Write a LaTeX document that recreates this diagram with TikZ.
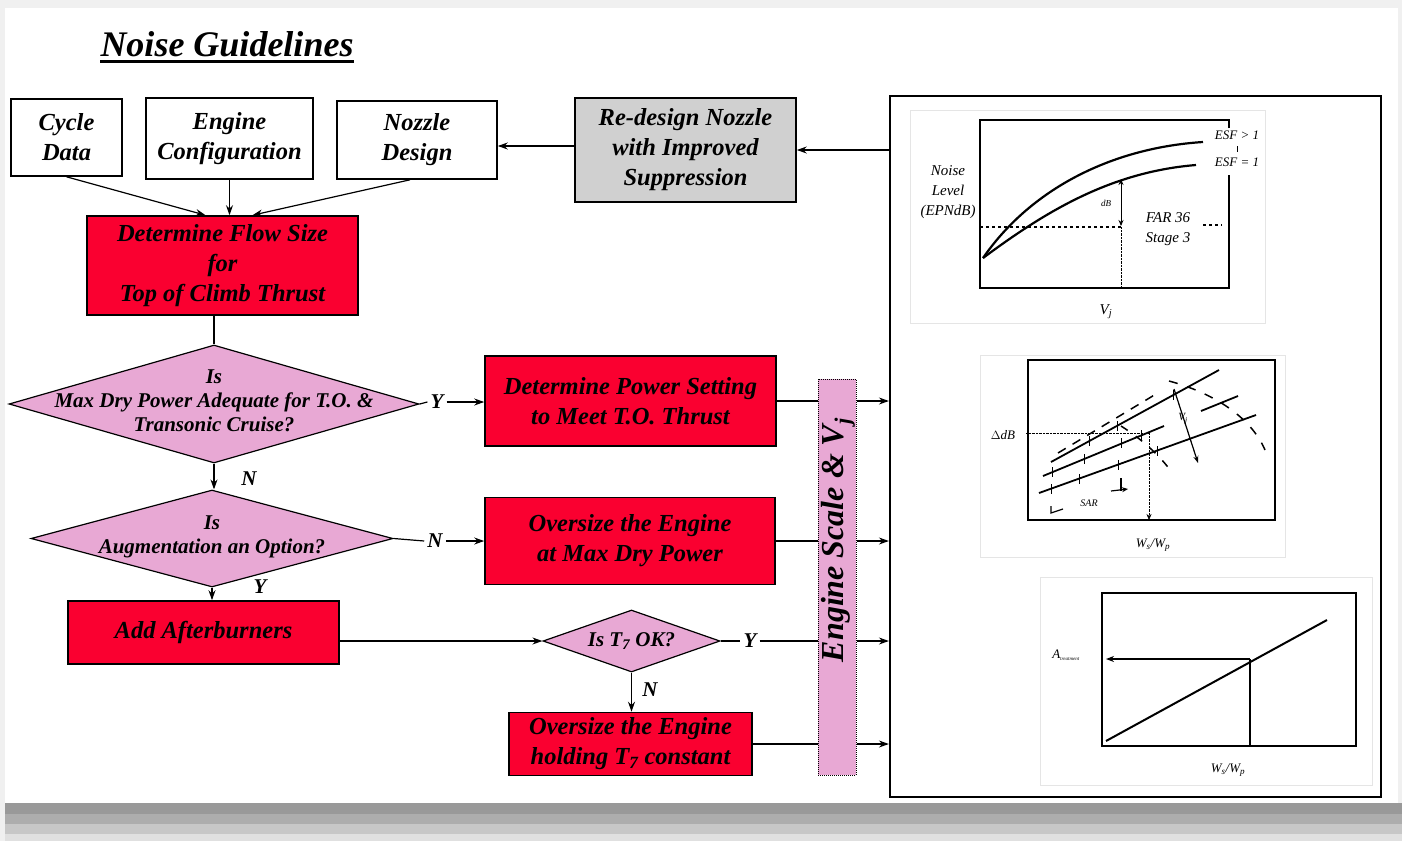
\documentclass[tikz,border=0pt]{standalone}
\usepackage{fontspec}
\setmainfont{Liberation Serif}
\usetikzlibrary{shapes.geometric, arrows.meta}

\definecolor{boxred}{RGB}{250,0,48}
\definecolor{askpink}{RGB}{232,168,212}
\definecolor{redogray}{RGB}{208,208,208}

\newcommand{\bx}{\fontsize{24.5}{30}\selectfont\bfseries\itshape}
\newcommand{\qx}{\fontsize{21}{24}\selectfont\bfseries\itshape}
\newcommand{\gx}{\fontsize{15}{20}\selectfont\itshape}
\newcommand{\sx}{\fontsize{13}{16}\selectfont\itshape}

\tikzset{
  blk/.style={draw, line width=1.6pt, align=center, font=\bx, inner sep=0pt},
  redblk/.style={blk, fill=boxred},
  ask/.style={diamond, draw, line width=1.2pt, fill=askpink, inner sep=0pt},
  asktext/.style={align=center, font=\qx, inner sep=0pt},
  yn/.style={font=\qx, inner sep=3pt},
  link/.style={line width=1.2pt},
  glab/.style={font=\gx, align=center, inner sep=1pt},
  slab/.style={font=\sx, align=center, inner sep=1pt},
}

\begin{document}
\begin{tikzpicture}[x=1pt, y=-1pt, >={Stealth[length=10pt, width=7pt]}]
\fill[black!6] (0,0) rectangle (1402,841);
\fill[white] (5,8) rectangle (1398,803);
\foreach \ya/\yb/\g in {803/814/40, 814/824/32, 824/834/22, 834/841/12}
    \fill[black!\g] (5,\ya) rectangle (1402,\yb);
\useasboundingbox (0,0) rectangle (1402,841);

\node[font=\fontsize{36}{40}\selectfont\bfseries\itshape, inner sep=0pt] (title) at (227,44) {Noise Guidelines};
\draw[line width=2.5pt] ([yshift=-5pt]title.base west) -- ([yshift=-5pt]title.base east);

% flow chart
\node[blk, minimum width=111, minimum height=77] (cycle) at (66.5,137.5) {Cycle\\Data};
\node[blk, minimum width=167, minimum height=81] (engine) at (229.5,138.5) {Engine\\Configuration};
\node[blk, minimum width=160, minimum height=78] (nozzle) at (417,140) {Nozzle\\Design};
\node[blk, fill=redogray, minimum width=221, minimum height=104] (redesign) at (685.5,150) {Re-design Nozzle\\with Improved\\Suppression};
\node[redblk, minimum width=271, minimum height=99] (flow) at (222.5,265.5) {Determine Flow Size\\for\\Top of Climb Thrust};

\node[ask, minimum width=410, minimum height=118] (q1) at (214,404) {};
\node[asktext] (q1t) at (214,401) {Is\\Max Dry Power Adequate for T.O. \&\\Transonic Cruise?};
\node[redblk, minimum width=291, minimum height=90] (power) at (630.5,401) {Determine Power Setting\\to Meet T.O. Thrust};

\node[ask, minimum width=362, minimum height=97] (q2) at (212,538.5) {};
\node[asktext] (q2t) at (212,537) {Is\\Augmentation an Option?};
\node[redblk, minimum width=290, minimum height=87] (big1) at (630,541) {Oversize the Engine\\at Max Dry Power};

\node[redblk, minimum width=271, minimum height=63] (burner) at (203.5,632.5) {Add Afterburners};
\node[ask, minimum width=177, minimum height=62] (q3) at (631.5,641) {};
\node[asktext] (q3t) at (q3) {Is T\textsubscript{7} OK?};
\node[redblk, minimum width=243, minimum height=63] (big2) at (630.5,744) {Oversize the Engine\\holding T\textsubscript{7} constant};

\node[draw, densely dotted, line width=1pt, fill=askpink, minimum width=38, minimum height=396, inner sep=0pt] (bar) at (837,577) {};
\node[rotate=90, font=\fontsize{32}{34}\selectfont\bfseries\itshape, inner sep=0pt] (bartxt) at (838,540) {Engine Scale \& V\textsubscript{j}};

\node[draw, line width=2.2pt, minimum width=491, minimum height=701, inner sep=0pt] (panel) at (1135.5,446.5) {};

\node[yn] (y1) at (437,402) {Y};
\node[yn] (n1) at (249,479) {N};
\node[yn] (n2) at (435,541) {N};
\node[yn] (y2) at (260,587) {Y};
\node[yn] (y3) at (750,641) {Y};
\node[yn] (n3) at (650,690) {N};

\draw[->, link] (cycle.south) -- ([xshift=-17pt]flow.north);
\draw[->, link] (engine.south) -- (engine.south |- flow.north);
\draw[->, link] ([xshift=-7pt]nozzle.south) -- ([xshift=30pt]flow.north);
\draw[->, link] (redesign.east -| panel.west) -- (redesign.east);
\draw[->, link] ([yshift=4pt]redesign.west) -- ([yshift=4pt]redesign.west -| nozzle.east);
\draw[link] (q1.north |- flow.south) -- (q1.north);
\draw[link] (q1.east) -- (y1.west);
\draw[->, link] (y1.east) -- (y1.east -| power.west);
\draw[->, link] (q1.south) -- (q1.south |- q2.north);
\draw[link] (q2.east) -- (n2.west);
\draw[->, link] (n2.east) -- (n2.east -| big1.west);
\draw[->, link] (q2.south) -- (q2.south |- burner.north);
\draw[->, link] (burner.east |- q3.west) -- (q3.west);
\draw[link] (q3.east) -- (y3.west);
\draw[->, link] (q3.south) -- (q3.south |- big2.north);
\foreach \src in {power, big1, y3, big2}
{
    \draw[link] (\src.east) -- (\src.east -| bar.west);
    \draw[->, link] (\src.east -| bar.east) -- (\src.east -| panel.west);
}

% scanned charts
\draw[black!10] (910,110) rectangle (1265,323);
\draw[black!10] (980,355) rectangle (1285,557);
\draw[black!10] (1040,577) rectangle (1372,785);

% noise level vs jet velocity
\draw[line width=1.5pt] (1229,128) -- (1229,120) -- (980,120) -- (980,288) -- (1229,288) -- (1229,175);
\draw[line width=2.2pt] (983,258) .. controls (1030,190) and (1110,148) .. (1203,142);
\draw[line width=2.2pt] (983,258) .. controls (1045,212) and (1110,172) .. (1196,165);
\draw[dashed, line width=1.2pt] (980,227) -- (1121,227);
\draw[dashed, line width=1.2pt] (1203,225) -- (1222,225);
\draw[densely dotted] (1121,227) -- (1121,288);
\draw[{Stealth[length=6pt,width=5pt]}-{Stealth[length=6pt,width=5pt]}, line width=.9pt] (1121,179) -- (1121,226);
\draw (1237,146) -- (1237,152);
\node[glab] (nlev) at (948,192) {Noise\\Level\\(EPNdB)};
\node[glab] (far) at (1168,229) {FAR 36\\Stage 3};
\node[slab] (esf1) at (1237,135) {ESF > 1};
\node[slab] (esf2) at (1237,162) {ESF = 1};
\node[font=\fontsize{9}{10}\selectfont\itshape] (db) at (1106,203) {dB};
\node[glab] (vj1) at (1106,312) {V\textsubscript{j}};

% delta dB vs mass flow ratio
\draw[line width=1.5pt] (1028,360) rectangle (1275,520);
\draw[line width=1.8pt] (1051,462) -- (1219,370);
\draw[line width=1.8pt] (1043,476) -- (1164,426);
\draw[line width=1.8pt] (1039,493) -- (1256,415);
\draw[line width=1.8pt] (1201,411) -- (1238,396);
\draw[line width=1.5pt, dash pattern=on 9pt off 8pt] (1058,453) -- (1156,394);
\draw[line width=1.5pt, dash pattern=on 9pt off 10pt] (1169,381) .. controls (1210,392) and (1250,415) .. (1265,450);
\draw[line width=1.5pt, dash pattern=on 8pt off 10pt] (1121,426) .. controls (1140,438) and (1160,455) .. (1173,474);
\foreach \x/\y in {1051/489, 1079/479, 1118/465, 1157/451, 1052/472, 1084/459, 1121/443, 1141/435, 1089/441, 1117/426, 1173/395}
    \draw[line width=1pt] (\x,\y) ++(0,-5) -- ++(0,10);
\draw[-{Stealth[length=7pt,width=5pt]}, line width=1.2pt] (1174,389) -- (1198,463);
\draw[densely dotted] (1026,433) -- (1149,433);
\draw[densely dotted, -{Stealth[length=6pt,width=5pt]}] (1149,433) -- (1149,520);
\draw[line width=1.2pt] (1121,478) -- (1121,491);
\draw[-{Stealth[length=6pt,width=5pt]}, line width=1.2pt] (1111,491) -- (1128,489);
\draw[line width=1.2pt] (1051,506) -- (1051,513) -- (1063,509);
\node[font=\fontsize{10}{12}\selectfont\itshape] (sar) at (1089,503) {SAR};
\node[font=\fontsize{11}{12}\selectfont\itshape] (vj2) at (1183,419) {V\textsubscript{j}};
\node[slab] (ddb) at (1003,435) {$\Delta$dB};
\node[slab] (wr1) at (1153,545) {W\textsubscript{s}/W\textsubscript{p}};

% treatment area vs mass flow ratio
\draw[line width=1.5pt] (1102,593) rectangle (1356,746);
\draw[line width=2pt] (1106,741) -- (1327,620);
\draw[-{Stealth[length=8pt,width=6pt]}, line width=1.2pt] (1250,659) -- (1106,659);
\draw[line width=1.2pt] (1250,659) -- (1250,746);
\node[slab] (atr) at (1066,655) {A\textsubscript{\tiny treatment}};
\node[slab] (wr2) at (1228,770) {W\textsubscript{s}/W\textsubscript{p}};

\end{tikzpicture}
\end{document}
